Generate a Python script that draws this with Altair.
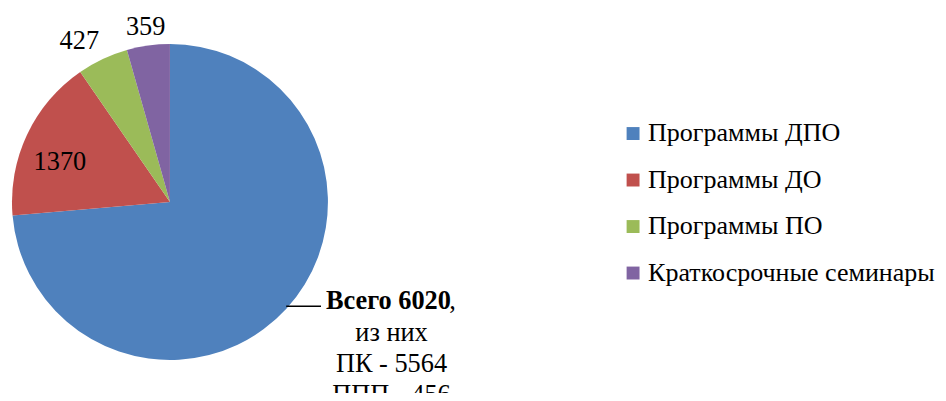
import altair as alt
import pandas as pd

categories = ["Программы ДПО", "Программы ДО", "Программы ПО", "Краткосрочные семинары"]
values = [6020, 1370, 427, 359]
labels = ["Всего 6020", "1370", "427", "359"]
colors = ["#4F81BD", "#C0504D", "#9BBB59", "#8064A2"]
sub_lines = ["из них", "ПК - 5564", "ППП - 456"]

df = pd.DataFrame({"cat": categories, "value": values, "label": labels, "idx": list(range(len(categories)))})
df_sub = pd.DataFrame({"line": sub_lines, "n": list(range(len(sub_lines)))})

CX, CY = 163, 194
R = 159
FONT = "Liberation Serif"
FS = 26.5
LFS = 26.2

base = alt.Chart(df)

color = alt.Color(
    "cat:N",
    scale=alt.Scale(domain=categories, range=colors),
    sort=categories,
    legend=alt.Legend(
        title=None, orient="none", legendX=616, legendY=112, padding=0,
        symbolType="square", symbolSize=169, symbolStrokeWidth=0,
        labelFont=FONT, labelFontSize=LFS, labelColor="black",
        rowPadding=19.8, labelOffset=2, labelLimit=400,
    ),
)

pie = base.mark_arc(outerRadius=R).encode(
    theta=alt.Theta("value:Q", stack=True),
    order=alt.Order("idx:Q"),
    color=color,
    x=alt.value(CX),
    y=alt.value(CY),
)

angles = (
    base.transform_joinaggregate(total="sum(value)")
    .transform_window(cum="sum(value)", sort=[alt.SortField("idx")], frame=[None, 0])
    .transform_calculate(mid="(datum.cum - datum.value/2) / datum.total * 2 * PI")
)

def slice_label(i, radius, dx, dy):
    return (
        angles.transform_filter(alt.datum.idx == i)
        .mark_text(radius=radius, dx=dx, dy=dy, font=FONT, fontSize=FS, color="black")
        .encode(
            theta=alt.Theta("mid:Q", scale=None, stack=False),
            text="label:N",
            x=alt.value(CX),
            y=alt.value(CY),
        )
    )

lab_red = slice_label(1, 118, -4, 10)
lab_green = slice_label(2, 186, -12, 6)
lab_purple = slice_label(3, 178, 0, 0)

bold_lab = (
    base.transform_filter(alt.datum.idx == 0)
    .mark_text(font=FONT, fontSize=FS, fontWeight="bold", color="black", align="left", baseline="alphabetic")
    .encode(text="label:N", x=alt.value(320), y=alt.value(302))
)
comma = (
    base.transform_filter(alt.datum.idx == 0)
    .mark_text(text=",", font=FONT, fontSize=FS, color="black", align="left", baseline="alphabetic")
    .encode(x=alt.value(444), y=alt.value(302))
)
leader = (
    base.transform_filter(alt.datum.idx == 0)
    .mark_rule(color="black", strokeWidth=1.5)
    .encode(x=alt.value(280), x2=alt.value(315), y=alt.value(299))
)
subs = (
    alt.Chart(df_sub)
    .transform_calculate(ypix="334 + datum.n * 31")
    .mark_text(font=FONT, fontSize=FS, color="black", align="center", baseline="alphabetic")
    .encode(text="line:N", x=alt.value(386), y=alt.Y("ypix:Q", scale=None, axis=None))
)

chart = (
    alt.layer(pie, lab_red, lab_green, lab_purple, leader, bold_lab, comma, subs)
    .properties(width=936, height=385, padding=0, autosize=alt.AutoSizeParams(type="none"))
    .configure_view(stroke=None)
    .configure_legend(labelFont=FONT, labelFontSize=LFS, labelColor="black")
)

chart.save("out.html", embed_options={"renderer": "svg", "actions": False})
